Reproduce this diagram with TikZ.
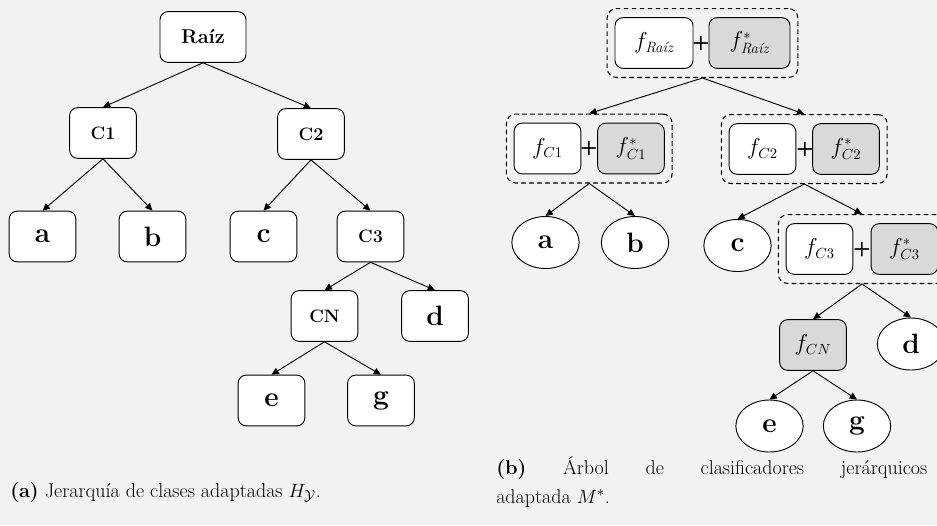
\documentclass[tikz,border=0pt]{standalone}
\usepackage{amsmath}
\usepackage{fontspec}
\usetikzlibrary{arrows.meta,fit,shapes.geometric}
\definecolor{bgc}{HTML}{F2F2F2}
\definecolor{fillg}{HTML}{D9D9D9}
\newcommand{\rootfont}{\fontsize{15}{18}\selectfont\bfseries}
\newcommand{\innfont}{\fontsize{13.5}{16}\selectfont\bfseries}
\newcommand{\leaffont}{\fontsize{21}{25}\selectfont\bfseries}
\newcommand{\ffont}{\fontsize{16}{19}\selectfont}
\newcommand{\capfont}{\fontsize{15}{21.75}\selectfont}
\begin{document}
\begin{tikzpicture}[x=0.75pt,y=-0.75pt,
  box/.style={draw=black,line width=0.7pt,rounded corners=6pt,fill=white,
    minimum width=50pt,minimum height=38pt,inner sep=0pt},
  gbox/.style={box,fill=fillg},
  leaf/.style={ellipse,draw=black,line width=0.7pt,fill=white,
    minimum width=50.5pt,minimum height=39pt,inner sep=0pt,font=\leaffont},
  grp/.style={draw=black,dashed,dash pattern=on 3.5pt off 2.5pt,line width=0.8pt,
    rounded corners=7pt,inner xsep=5.5pt,inner ysep=6.5pt},
  plus/.style={font=\fontsize{15}{17}\selectfont\sffamily\bfseries,inner sep=0pt},
  conn/.style={line width=0.7pt,-{Triangle[length=5.5pt,width=5pt]}},
]
\useasboundingbox (0,0) rectangle (937,525);
\fill[bgc] (0,0) rectangle (937,525);
\clip (0,0) rectangle (937,525);

% ---------- left tree ----------
\node[box,minimum width=64.5pt,font=\rootfont] (L0) at (203,37) {Raíz};
\node[box,font=\innfont] (L1) at (103,133) {C1};
\node[box,font=\innfont] (L2) at (311,134) {C2};
\node[box,font=\leaffont] (La) at (42.5,236.5) {a};
\node[box,font=\leaffont] (Lb) at (152.5,236.5) {b};
\node[box,font=\leaffont] (Lc) at (263.5,236.5) {c};
\node[box,font=\innfont] (L3) at (370.5,236.5) {C3};
\node[box,font=\innfont] (LN) at (324.5,316) {CN};
\node[box,font=\leaffont] (Ld) at (435,316) {d};
\node[box,font=\leaffont] (Le) at (271.5,400.5) {e};
\node[box,font=\leaffont] (Lg) at (381,400.5) {g};

\draw[conn] (L0.south) -- (L1.north);
\draw[conn] (L0.south) -- (L2.north);
\draw[conn] (L1.south) -- (La.north);
\draw[conn] (L1.south) -- (Lb.north);
\draw[conn] (L2.south) -- (Lc.north);
\draw[conn] (L2.south) -- (L3.north);
\draw[conn] (L3.south) -- (LN.north);
\draw[conn] (L3.south) -- (Ld.north);
\draw[conn] (LN.south) -- (Le.north);
\draw[conn] (LN.south) -- (Lg.north);

% ---------- right tree ----------
\node[box,minimum width=58.5pt,font=\ffont] (R0a) at (654,43) {$f_{\text{\itshape Raíz}}$};
\node[gbox,minimum width=60.75pt,font=\ffont] (R0b) at (749.5,43) {$f^{*}_{\text{\itshape Raíz}}$};
\node[plus] (P0) at (701,43) {+};
\node[grp,fit=(R0a)(R0b)] (G0) {};

\node[box,font=\ffont] (R1a) at (547.5,148.5) {$f_{C1}$};
\node[gbox,font=\ffont] (R1b) at (631,148.5) {$f^{*}_{C1}$};
\node[plus] (P1) at (589,148.5) {+};
\node[grp,fit=(R1a)(R1b)] (G1) {};

\node[box,font=\ffont] (R2a) at (762.5,149) {$f_{C2}$};
\node[gbox,font=\ffont] (R2b) at (846,149) {$f^{*}_{C2}$};
\node[plus] (P2) at (805,149) {+};
\node[grp,fit=(R2a)(R2b)] (G2) {};

\node[leaf] (Ra) at (545.5,242.5) {a};
\node[leaf] (Rb) at (635,242.5) {b};
\node[leaf] (Rc) at (737.5,245.5) {c};

\node[box,font=\ffont] (R3a) at (819.5,249) {$f_{C3}$};
\node[gbox,font=\ffont] (R3b) at (904.5,249) {$f^{*}_{C3}$};
\node[plus] (P3) at (862,249) {+};
\node[grp,fit=(R3a)(R3b)] (G3) {};

\node[gbox,font=\ffont] (RN) at (813,345) {$f_{CN}$};
\node[leaf] (Rd) at (911,344) {d};
\node[leaf] (Re) at (769.5,426) {e};
\node[leaf] (Rg) at (857,426) {g};

\draw[conn] (G0.south) -- (G1.north);
\draw[conn] (G0.south) -- (G2.north);
\draw[conn] (G1.south) -- (Ra.north);
\draw[conn] (G1.south) -- (Rb.north);
\draw[conn] (G2.south) -- (Rc.north);
\draw[conn] (G2.south) -- (G3.north);
\draw[conn] (G3.south) -- (RN.north);
\draw[conn] (G3.south) -- (Rd.north);
\draw[conn] (RN.south) -- (Re.north);
\draw[conn] (RN.south) -- (Rg.north);

% ---------- captions ----------
\node[anchor=base west,inner sep=0pt,font=\capfont] (capa) at (10,497)
  {\textbf{(a)} Jerarquía de clases adaptadas $H_{\mathcal{Y}}$.};
\node[anchor=north west,inner sep=0pt,text width=323.25pt,align=justify,font=\capfont] (capb) at (496,456)
  {\textbf{(b)} Árbol de clasificadores jerárquicos\linebreak adaptada $M^{*}$.};
\end{tikzpicture}
\end{document}
